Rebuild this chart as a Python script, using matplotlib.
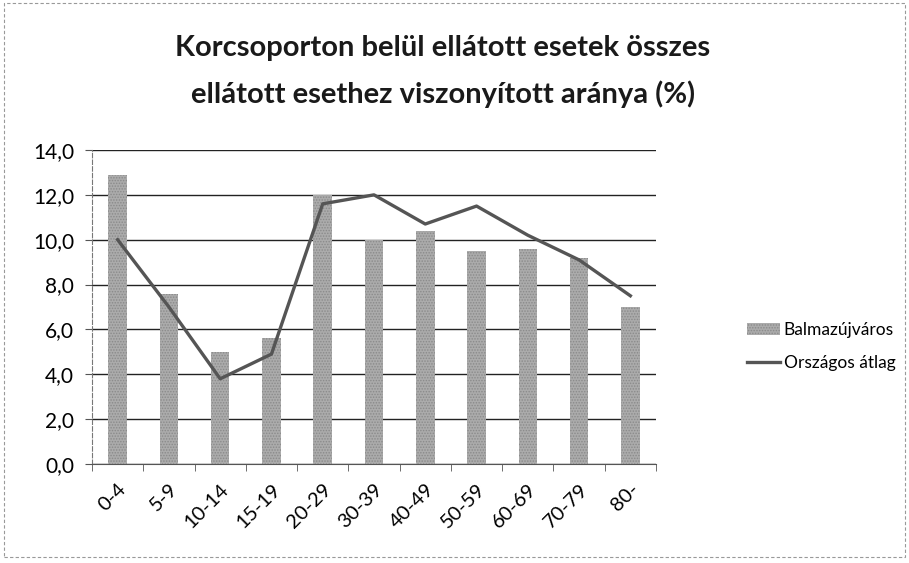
import matplotlib.pyplot as plt
import numpy as np
from matplotlib.patches import Rectangle

plt.rcParams['font.family'] = ['Lato', 'DejaVu Sans']
plt.rcParams['hatch.color'] = '#6e6e6e'
plt.rcParams['hatch.linewidth'] = 0.7

# age groups and the two series (%)
age_groups = ['0-4', '5-9', '10-14', '15-19', '20-29', '30-39',
              '40-49', '50-59', '60-69', '70-79', '80-']
balmazujvaros = [12.9, 7.6, 5.0, 5.6, 12.0, 10.0, 10.4, 9.5, 9.6, 9.2, 7.0]
orszagos_atlag = [10.0, 7.0, 3.8, 4.9, 11.6, 12.0, 10.7, 11.5, 10.2, 9.1, 7.5]
y_ticks = [0, 2, 4, 6, 8, 10, 12, 14]

fig = plt.figure(figsize=(9.09, 5.63), dpi=100)
ax = fig.add_axes([92 / 909, 1 - 464 / 563, (656 - 92) / 909, (464 - 150) / 563])

x = np.arange(len(age_groups))
bars = ax.bar(x, balmazujvaros, width=0.36, color='#ababab', hatch='......',
              edgecolor='#8a8a8a', linewidth=0, label='Balmazújváros', zorder=3)
line, = ax.plot(x, orszagos_atlag, color='#555555', linewidth=2.4,
                label='Országos átlag', zorder=4)

ax.set_xlim(-0.5, len(age_groups) - 0.5)
ax.set_ylim(0, 14)
ax.set_yticks(y_ticks)
ax.set_yticklabels([f'{v:.1f}'.replace('.', ',') for v in y_ticks], fontsize=15)
ax.yaxis.grid(True, color='#222222', linewidth=1.0, zorder=0)
ax.set_axisbelow(True)

# category ticks sit between the groups
ax.set_xticks(x)
ax.set_xticklabels(age_groups, rotation=45, ha='right', rotation_mode='anchor',
                   fontsize=14.5)
ax.set_xticks(np.arange(-0.5, len(age_groups)), minor=True)
ax.tick_params(axis='x', which='major', length=0, pad=12)
ax.tick_params(axis='x', which='minor', length=5, color='#555555')
ax.tick_params(axis='y', length=5, color='#555555', pad=8)

for side in ['top', 'right']:
    ax.spines[side].set_visible(False)
ax.spines['left'].set_color('#777777')
ax.spines['left'].set_linestyle((0, (4, 2)))
ax.spines['bottom'].set_color('#555555')

fig.text(0.487, 0.915, 'Korcsoporton belül ellátott esetek összes',
         ha='center', va='center', fontsize=21, fontweight='bold', color='#1a1a1a')
fig.text(0.487, 0.833, 'ellátott esethez viszonyított aránya (%)',
         ha='center', va='center', fontsize=21, fontweight='bold', color='#1a1a1a')

fig.legend(handles=[bars, line], loc='center left', bbox_to_anchor=(0.822, 0.384),
           frameon=False, fontsize=12.5, handlelength=1.9, handletextpad=0.2,
           labelspacing=1.0, borderaxespad=0, borderpad=0)

# thin frame around the chart area
fig.patches.append(Rectangle((0.004, 0.01), 0.992, 0.985, transform=fig.transFigure,
                             fill=False, edgecolor='#999999', linewidth=0.8,
                             linestyle=(0, (3, 2))))

fig.savefig('out.png', dpi=100, facecolor='white')
